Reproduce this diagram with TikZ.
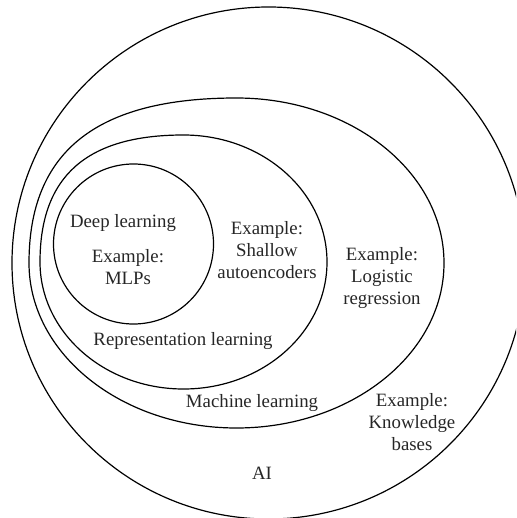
\documentclass[tikz,border=0pt]{standalone}
\usepackage{fontspec}
\setmainfont{Liberation Serif}
\begin{document}
\begin{tikzpicture}[x=1pt,y=-1pt,
  ring/.style={draw=black, line width=1.2pt},
  lbl/.style={align=center, inner sep=0pt, text=black!85, font=\fontsize{18.8}{22}\selectfont}]
\useasboundingbox (0,0) rectangle (516,518);
\clip (0,0) rectangle (516,518);
% AI
\draw[ring] (268.6,263) ellipse [x radius=256.6, y radius=256];
% Machine learning (fuller upper-left quadrant)
\draw[ring] (29,263) .. controls (29,151.5) and (96.5,98) .. (236.5,98)
  .. controls (351.1,98) and (444,171.9) .. (444,263)
  .. controls (444,354.1) and (351.1,428) .. (236.5,428)
  .. controls (121.9,428) and (29,354.1) .. (29,263) -- cycle;
% Representation learning (fuller upper-left quadrant)
\draw[ring] (40,262) .. controls (40,176.2) and (86.7,135) .. (183.5,135)
  .. controls (262.8,135) and (327,191.9) .. (327,262)
  .. controls (327,332.1) and (262.8,389) .. (183.5,389)
  .. controls (104.2,389) and (40,332.1) .. (40,262) -- cycle;
% Deep learning
\draw[ring] (133.5,244) circle [radius=80];
\node[lbl] (dl) at (123,223) {Deep learning};
\node[lbl] (mlp) at (128,267) {Example:\\MLPs};
\node[lbl] (sae) at (267,250) {Example:\\Shallow\\autoencoders};
\node[lbl] (lr) at (382,278) {Example:\\Logistic\\regression};
\node[lbl] (rl) at (183,341) {Representation learning};
\node[lbl] (ml) at (252,403) {Machine learning};
\node[lbl] (kb) at (412,422) {Example:\\Knowledge\\bases};
\node[lbl] (ai) at (262,473) {AI};
\end{tikzpicture}
\end{document}
